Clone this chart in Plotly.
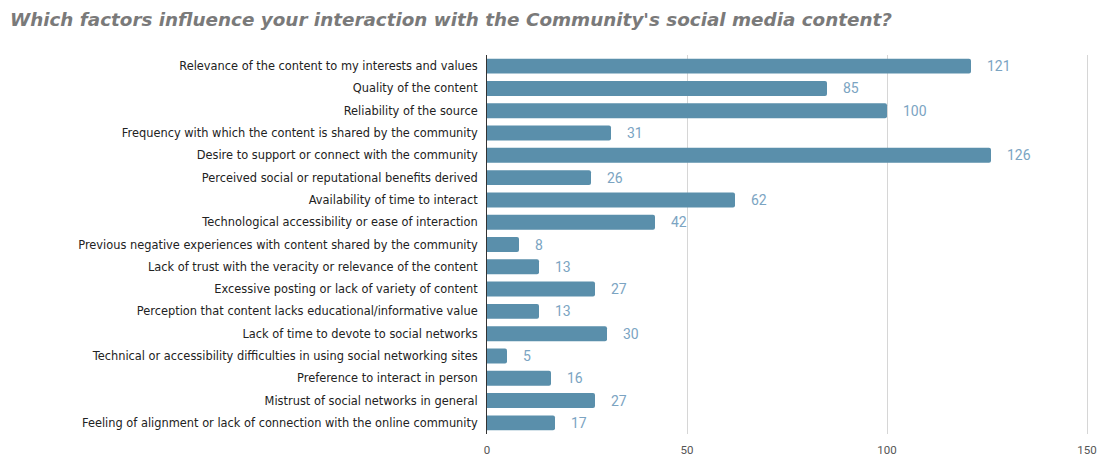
import plotly.graph_objects as go

# Survey responses: factors influencing interaction with social media content
factors = [
    "Relevance of the content to my interests and values",
    "Quality of the content",
    "Reliability of the source",
    "Frequency with which the content is shared by the community",
    "Desire to support or connect with the community",
    "Perceived social or reputational benefits derived",
    "Availability of time to interact",
    "Technological accessibility or ease of interaction",
    "Previous negative experiences with content shared by the community",
    "Lack of trust with the veracity or relevance of the content",
    "Excessive posting or lack of variety of content",
    "Perception that content lacks educational/informative value",
    "Lack of time to devote to social networks",
    "Technical or accessibility difficulties in using social networking sites",
    "Preference to interact in person",
    "Mistrust of social networks in general",
    "Feeling of alignment or lack of connection with the online community",
]
counts = [121, 85, 100, 31, 126, 26, 62, 42, 8, 13, 27, 13, 30, 5, 16, 27, 17]
x_ticks = [0, 50, 100, 150]

title_text = "Which factors influence your interaction with the Community's social media content?"

bar_color = "#5a8fab"
label_color = "#7ba4c2"

fig = go.Figure(
    go.Bar(
        x=counts,
        y=factors,
        orientation="h",
        marker=dict(color=bar_color, line=dict(width=0)),
        hoverinfo="x+y",
    )
)

# value labels to the right of each bar
for f, v in zip(factors, counts):
    fig.add_annotation(
        x=v, y=f, text=str(v), showarrow=False,
        xanchor="left", xshift=14,
        font=dict(family="Roboto, Liberation Sans, Arial", size=14, color=label_color),
    )

fig.update_layout(
    width=1102,
    height=459,
    margin=dict(l=487, r=13, t=55, b=25, autoexpand=False),
    paper_bgcolor="white",
    plot_bgcolor="white",
    bargap=0.33,
    barcornerradius=2,
    showlegend=False,
    font=dict(family="Liberation Sans, Arial", color="#222222"),
    title=dict(
        text="<b><i>" + title_text + "</i></b>",
        x=0.009, xanchor="left", xref="container",
        y=0.958, yanchor="middle", yref="container",
        font=dict(family="DejaVu Sans, Liberation Sans, Arial", size=18.35, color="#7a7a7a"),
    ),
    xaxis=dict(
        range=[0, 150.5],
        tickvals=x_ticks,
        ticktext=[str(t) for t in x_ticks],
        showgrid=True,
        gridcolor="#d6d6d6",
        gridwidth=1,
        zeroline=False,
        showline=False,
        tickfont=dict(family="Roboto, Liberation Sans, Arial", size=11.5, color="#555555"),
        ticks="",
        ticklabelstandoff=7,
        automargin=False,
        fixedrange=True,
    ),
    yaxis=dict(
        autorange="reversed",
        showline=True,
        linecolor="#333333",
        linewidth=1,
        showgrid=False,
        ticks="",
        ticklabelstandoff=6,
        automargin=False,
        tickfont=dict(family="DejaVu Sans, Liberation Sans, Arial", size=11.4, color="#222222"),
        fixedrange=True,
    ),
)

fig.write_html("out.html")
